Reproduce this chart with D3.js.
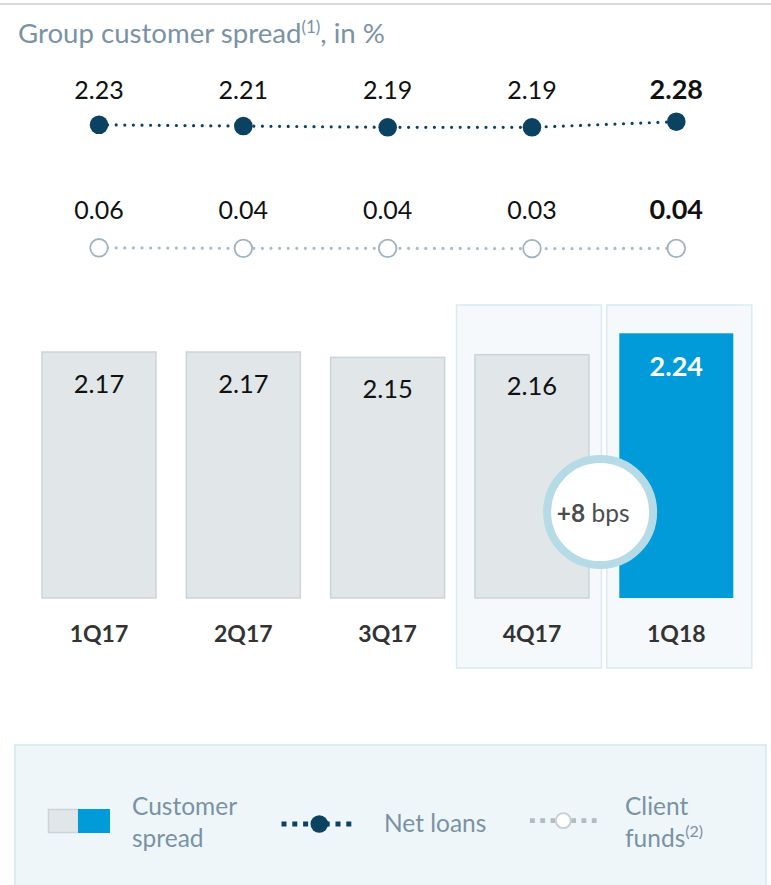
<!DOCTYPE html>
<html>
<head>
<meta charset="utf-8">
<script src="https://cdn.jsdelivr.net/npm/d3@7"></script>
<style>
  html, body { margin: 0; padding: 0; background: #fff; }
  svg { display: block; }
  text { font-family: Lato, "Open Sans", sans-serif; }
</style>
</head>
<body>
<div id="chart"></div>
<script>
// ---- data ----
const categories = ["1Q17", "2Q17", "3Q17", "4Q17", "1Q18"];
const customerSpread = [2.17, 2.17, 2.15, 2.16, 2.24];
const netLoans = [2.23, 2.21, 2.19, 2.19, 2.28];
const clientFunds = [0.06, 0.04, 0.04, 0.03, 0.04];
const highlighted = ["4Q17", "1Q18"];
const changeValue = "+8";
const changeUnit = " bps";
const titleText = "Group customer spread";
const titleSup = "(1)";
const titleTail = ", in %";
const legendLabels = [["Customer", "spread"], ["Net loans"], ["Client", "funds"]];
const legendSup = "(2)";

// ---- setup ----
const W = 771, H = 885;
const svg = d3.select("#chart").append("svg").attr("width", W).attr("height", H);

const slate = "#7a92a6";
const navy = "#0b4262";
const lightLine = "#a9bbc6";
const barGrey = "#e1e6e9";
const barGreyStroke = "#cbd4da";
const blue = "#009bd8";

const x = d3.scalePoint().domain(categories).range([99, 676.3]);
const yBar = d3.scaleLinear().domain([1.25, 2.24]).range([598, 333.3]);
const yNL = d3.scaleLinear().domain([2.19, 2.28]).range([127.3, 121.7]);
const yCF = d3.scaleLinear().domain([0.03, 0.06]).range([248.6, 247.8]);
const fmt = d3.format(".2f");
const last = categories.length - 1;

// top separator line
svg.append("line").attr("x1", 0).attr("x2", W).attr("y1", 4).attr("y2", 4)
  .attr("stroke", "#d9d9d9").attr("stroke-width", 2);

// title
const t = svg.append("text").attr("x", 18).attr("y", 43)
  .attr("fill", slate).attr("font-size", 27.6);
t.append("tspan").text(titleText);
t.append("tspan").attr("font-size", 17).attr("dy", -10).text(titleSup);
t.append("tspan").attr("dy", 10).text(titleTail);

// ---- net loans line ----
const nlData = categories.map((c, i) => ({ c, v: netLoans[i], i }));
svg.append("path").datum(nlData)
  .attr("d", d3.line().x(d => x(d.c)).y(d => yNL(d.v)))
  .attr("fill", "none").attr("stroke", navy).attr("stroke-width", 3.2)
  .attr("stroke-linecap", "round").attr("stroke-dasharray", "0 8.6");
svg.selectAll(".nlDot").data(nlData).enter().append("circle")
  .attr("cx", d => x(d.c)).attr("cy", d => yNL(d.v)).attr("r", 9.3).attr("fill", navy);
svg.selectAll(".nlLab").data(nlData).enter().append("text")
  .attr("x", d => x(d.c)).attr("y", 99).attr("text-anchor", "middle")
  .attr("font-size", d => d.i === last ? 27 : 25)
  .attr("font-weight", d => d.i === last ? 700 : 400)
  .attr("fill", "#111").text(d => fmt(d.v));

// ---- client funds line ----
const cfData = categories.map((c, i) => ({ c, v: clientFunds[i], i }));
svg.append("path").datum(cfData)
  .attr("d", d3.line().x(d => x(d.c)).y(d => yCF(d.v)))
  .attr("fill", "none").attr("stroke", lightLine).attr("stroke-width", 3.2)
  .attr("stroke-linecap", "round").attr("stroke-dasharray", "0 8.6");
svg.selectAll(".cfDot").data(cfData).enter().append("circle")
  .attr("cx", d => x(d.c)).attr("cy", d => yCF(d.v)).attr("r", 8.8)
  .attr("fill", "#fff").attr("stroke", "#9fb2be").attr("stroke-width", 1.8);
svg.selectAll(".cfLab").data(cfData).enter().append("text")
  .attr("x", d => x(d.c)).attr("y", 218.5).attr("text-anchor", "middle")
  .attr("font-size", d => d.i === last ? 27 : 25)
  .attr("font-weight", d => d.i === last ? 700 : 400)
  .attr("fill", "#111").text(d => fmt(d.v));

// ---- highlight panels ----
svg.selectAll(".panel").data(highlighted).enter().append("rect")
  .attr("x", (d, i) => x(d) - 72.5 + (i === 0 ? -3 : 3)).attr("width", 145)
  .attr("y", 305).attr("height", 363)
  .attr("fill", "#f5f9fc").attr("stroke", "#d9ebf2").attr("stroke-width", 1.5);

// ---- bars ----
const barData = categories.map((c, i) => ({ c, v: customerSpread[i], i }));
const bw = 114;
svg.selectAll(".bar").data(barData).enter().append("rect")
  .attr("x", d => x(d.c) - bw / 2).attr("width", bw)
  .attr("y", d => yBar(d.v)).attr("height", d => yBar(1.25) - yBar(d.v))
  .attr("fill", d => d.i === last ? blue : barGrey)
  .attr("stroke", d => d.i === last ? "none" : barGreyStroke).attr("stroke-width", 1.5);
svg.selectAll(".barLab").data(barData).enter().append("text")
  .attr("x", d => x(d.c)).attr("y", d => yBar(d.v) + (d.i === last ? 43 : 40.5))
  .attr("text-anchor", "middle")
  .attr("font-size", d => d.i === last ? 27 : 25.5)
  .attr("font-weight", d => d.i === last ? 700 : 400)
  .attr("fill", d => d.i === last ? "#fff" : "#111").text(d => fmt(d.v));

// category labels
svg.selectAll(".cat").data(categories).enter().append("text")
  .attr("x", d => x(d)).attr("y", 642).attr("text-anchor", "middle")
  .attr("font-size", 23).attr("font-weight", 700).attr("fill", "#333").text(d => d);

// ---- change bubble ----
const bx = (x(categories[last - 1]) + x(categories[last])) / 2 - 4;
const by = 512;
svg.append("circle").attr("cx", bx).attr("cy", by).attr("r", 53)
  .attr("fill", "#fff").attr("stroke", "#b6dbe7").attr("stroke-width", 8);
const bt = svg.append("text").attr("x", bx - 7).attr("y", 521.5).attr("text-anchor", "middle")
  .attr("font-size", 24.5).attr("fill", "#4d4d4d");
bt.append("tspan").attr("font-weight", 700).text(changeValue);
bt.append("tspan").text(changeUnit);

// ---- legend ----
svg.append("rect").attr("x", 15).attr("y", 745).attr("width", 751).attr("height", 160)
  .attr("fill", "#eff6f9").attr("stroke", "#d4e8ef").attr("stroke-width", 1.5);

// customer spread swatch
svg.append("rect").attr("x", 48.5).attr("y", 809.5).attr("width", 30).attr("height", 23)
  .attr("fill", barGrey).attr("stroke", barGreyStroke).attr("stroke-width", 1.5);
svg.append("rect").attr("x", 78).attr("y", 809).attr("width", 32).attr("height", 24)
  .attr("fill", blue);
const l1 = svg.append("text").attr("fill", slate).attr("font-size", 24.5);
l1.append("tspan").attr("x", 132).attr("y", 815).text(legendLabels[0][0]);
l1.append("tspan").attr("x", 132).attr("y", 846.5).text(legendLabels[0][1]);

// net loans symbol
svg.append("line").attr("x1", 281.5).attr("x2", 353).attr("y1", 824).attr("y2", 824)
  .attr("stroke", navy).attr("stroke-width", 5).attr("stroke-dasharray", "5 5.8");
svg.append("circle").attr("cx", 319.3).attr("cy", 824).attr("r", 8.8).attr("fill", navy);
svg.append("text").attr("x", 384).attr("y", 831.5).attr("fill", slate).attr("font-size", 24.5)
  .text(legendLabels[1][0]);

// client funds symbol
svg.append("line").attr("x1", 530).attr("x2", 601).attr("y1", 820.7).attr("y2", 820.7)
  .attr("stroke", "#b3bcc2").attr("stroke-width", 4.8).attr("stroke-dasharray", "4.8 5.5");
svg.append("circle").attr("cx", 563.3).attr("cy", 820.7).attr("r", 7.5)
  .attr("fill", "#fff").attr("stroke", "#c6ced3").attr("stroke-width", 1.8);
const l3 = svg.append("text").attr("fill", slate).attr("font-size", 24.5);
l3.append("tspan").attr("x", 625).attr("y", 815).text(legendLabels[2][0]);
l3.append("tspan").attr("x", 625).attr("y", 846.5).text(legendLabels[2][1]);
l3.append("tspan").attr("font-size", 16).attr("dy", -10).text(legendSup);
</script>
</body>
</html>
